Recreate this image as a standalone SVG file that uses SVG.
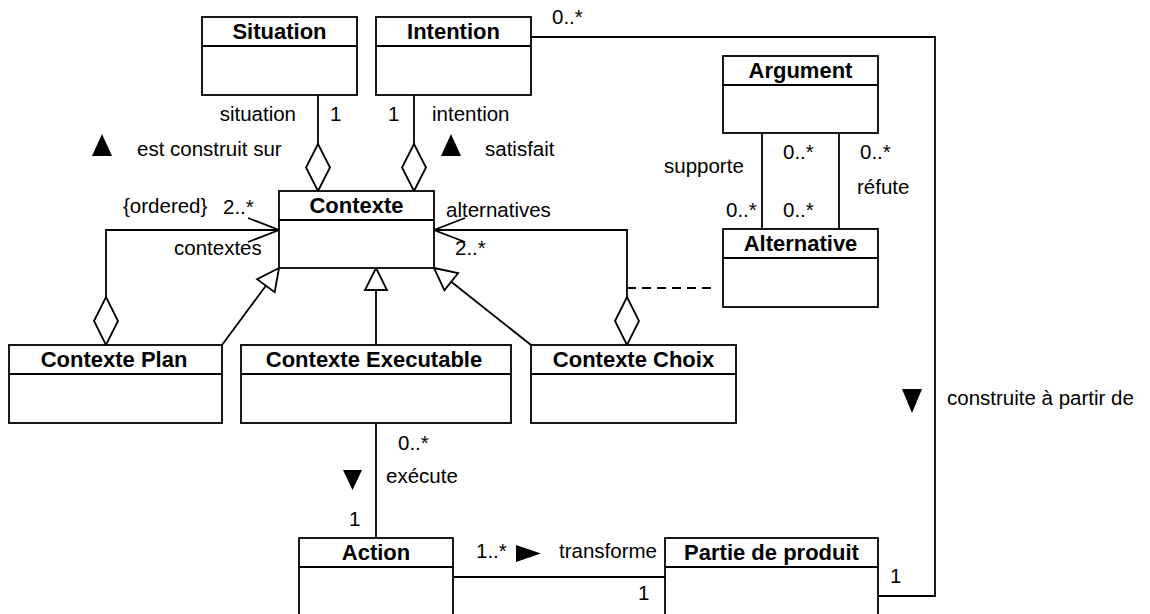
<svg xmlns="http://www.w3.org/2000/svg" width="1150" height="614" viewBox="0 0 1150 614">
<style>
.box{fill:#fff;stroke:#000;stroke-width:1.8}
.ln{fill:none;stroke:#000;stroke-width:1.8}
.dash{fill:none;stroke:#000;stroke-width:1.8;stroke-dasharray:9 6}
.hol{fill:#fff;stroke:#000;stroke-width:1.8}
.fil{fill:#000;stroke:none}
.t{font-family:"Liberation Sans",Arial,sans-serif;font-size:20.5px;fill:#000}
.h{font-family:"Liberation Sans",Arial,sans-serif;font-size:22px;font-weight:bold;fill:#000;text-anchor:middle}
</style>
<rect width="1150" height="614" fill="#fff"/>
<g id="connectors">
<line class="ln" x1="318" y1="95" x2="318" y2="144"/>
<polygon class="hol" points="318,144 330,167.5 318,191 306,167.5"/>
<line class="ln" x1="414" y1="95" x2="414" y2="144"/>
<polygon class="hol" points="414,144 426,167.5 414,191 402,167.5"/>
<polyline class="ln" points="279,230 106,230 106,297"/>
<polygon class="hol" points="106,297 118,321 106,345 94,321"/>
<polyline class="ln" points="248,218 279,230 248,242"/>
<polyline class="ln" points="434,230 627,230 627,297"/>
<polygon class="hol" points="627,297 639,321 627,345 615,321"/>
<polyline class="ln" points="465,218 434,230 465,242"/>
<line class="dash" x1="627" y1="288" x2="716" y2="288"/>
<line class="ln" x1="762" y1="133" x2="762" y2="229"/>
<line class="ln" x1="839" y1="133" x2="839" y2="229"/>
<line class="ln" x1="222" y1="345" x2="265.9" y2="285.7"/>
<polygon class="hol" points="279,268 274.7,292.2 257.1,279.1"/>
<line class="ln" x1="376" y1="345" x2="376" y2="290"/>
<polygon class="hol" points="376,268 387,290 365,290"/>
<line class="ln" x1="531" y1="345" x2="451.2" y2="281.7"/>
<polygon class="hol" points="434,268 458.1,273.1 444.4,290.3"/>
<line class="ln" x1="376" y1="423" x2="376" y2="538"/>
<line class="ln" x1="453" y1="577" x2="665" y2="577"/>
<polyline class="ln" points="531,37 935,37 935,596 878,596"/>
</g>
<g id="labels">
<text class="t" x="552" y="24">0..*</text>
<text class="t" x="296" y="121" text-anchor="end">situation</text>
<text class="t" x="330" y="121">1</text>
<text class="t" x="388" y="121">1</text>
<text class="t" x="432" y="121">intention</text>
<polygon class="fil" points="92,156 102,134 112,156"/>
<text class="t" x="137" y="156">est construit sur</text>
<polygon class="fil" points="441,156 451,134 461,156"/>
<text class="t" x="485" y="156">satisfait</text>
<text class="t" x="123" y="213">{ordered}</text>
<text class="t" x="223" y="214">2..*</text>
<text class="t" x="174" y="255">contextes</text>
<text class="t" x="446" y="217">alternatives</text>
<text class="t" x="455" y="255">2..*</text>
<text class="t" x="664" y="173">supporte</text>
<text class="t" x="783" y="159">0..*</text>
<text class="t" x="860" y="159">0..*</text>
<text class="t" x="857" y="194">réfute</text>
<text class="t" x="726" y="217">0..*</text>
<text class="t" x="783" y="217">0..*</text>
<text class="t" x="398" y="450">0..*</text>
<polygon class="fil" points="343,470 362,470 352.5,490"/>
<text class="t" x="386" y="483">exécute</text>
<text class="t" x="349" y="526">1</text>
<text class="t" x="476" y="558">1..*</text>
<polygon class="fil" points="516,545 516,562 541,553.5"/>
<text class="t" x="559" y="558">transforme</text>
<text class="t" x="638" y="600">1</text>
<text class="t" x="890" y="583">1</text>
<polygon class="fil" points="902,389 922,389 912,413"/>
<text class="t" x="947" y="405">construite à partir de</text>
</g>
<g id="situation">
<rect class="box" x="202" y="17" width="155" height="78"/>
<line class="ln" x1="202" y1="46" x2="357" y2="46"/>
<text class="h" x="279.5" y="39">Situation</text>
</g>
<g id="intention">
<rect class="box" x="376" y="17" width="155" height="78"/>
<line class="ln" x1="376" y1="46" x2="531" y2="46"/>
<text class="h" x="453.5" y="39">Intention</text>
</g>
<g id="argument">
<rect class="box" x="723" y="56" width="155" height="77"/>
<line class="ln" x1="723" y1="85" x2="878" y2="85"/>
<text class="h" x="800.5" y="78">Argument</text>
</g>
<g id="contexte">
<rect class="box" x="279" y="191" width="155" height="77"/>
<line class="ln" x1="279" y1="220" x2="434" y2="220"/>
<text class="h" x="356.5" y="213">Contexte</text>
</g>
<g id="alternative">
<rect class="box" x="723" y="229" width="155" height="78"/>
<line class="ln" x1="723" y1="258" x2="878" y2="258"/>
<text class="h" x="800.5" y="251">Alternative</text>
</g>
<g id="contexte-plan">
<rect class="box" x="9" y="345" width="213" height="78"/>
<line class="ln" x1="9" y1="374" x2="222" y2="374"/>
<text class="h" x="114" y="367">Contexte Plan</text>
</g>
<g id="contexte-executable">
<rect class="box" x="241" y="345" width="270" height="78"/>
<line class="ln" x1="241" y1="374" x2="511" y2="374"/>
<text class="h" x="374" y="367">Contexte Executable</text>
</g>
<g id="contexte-choix">
<rect class="box" x="531" y="345" width="205" height="78"/>
<line class="ln" x1="531" y1="374" x2="736" y2="374"/>
<text class="h" x="633.5" y="367">Contexte Choix</text>
</g>
<g id="action">
<rect class="box" x="299" y="538" width="154" height="80"/>
<line class="ln" x1="299" y1="567" x2="453" y2="567"/>
<text class="h" x="376" y="560">Action</text>
</g>
<g id="partie-de-produit">
<rect class="box" x="665" y="538" width="213" height="80"/>
<line class="ln" x1="665" y1="567" x2="878" y2="567"/>
<text class="h" x="771.5" y="560">Partie de produit</text>
</g>
</svg>
